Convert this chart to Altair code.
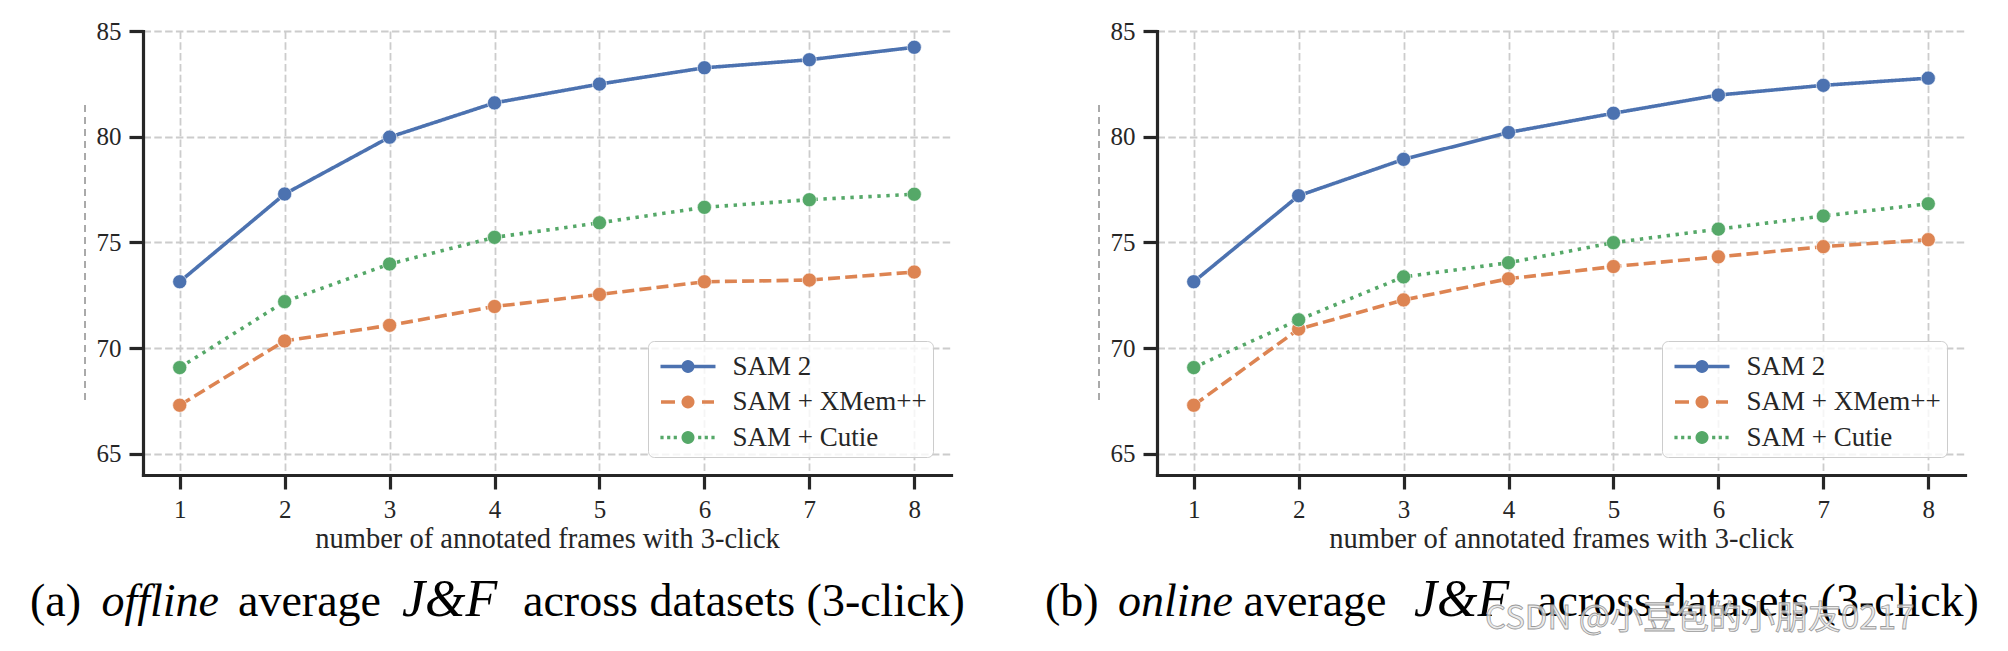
import math
import altair as alt
import pandas as pd

# ---------------- data ----------------
frames = [1, 2, 3, 4, 5, 6, 7, 8]
series_names = ["SAM 2", "SAM + XMem++", "SAM + Cutie"]

offline_sam2 = [73.14, 77.29, 79.98, 81.60, 82.49, 83.26, 83.64, 84.23]
offline_xmem = [67.30, 70.34, 71.08, 71.97, 72.54, 73.14, 73.22, 73.60]
offline_cutie = [69.08, 72.20, 73.98, 75.24, 75.93, 76.66, 77.02, 77.28]

online_sam2 = [73.14, 77.21, 78.93, 80.20, 81.11, 81.97, 82.43, 82.77]
online_xmem = [67.30, 70.90, 72.28, 73.28, 73.86, 74.32, 74.80, 75.13]
online_cutie = [69.08, 71.34, 73.37, 74.04, 74.99, 75.63, 76.25, 76.83]

y_tick_values = [65, 70, 75, 80, 85]
series_colors = ["#4C72B0", "#DD8452", "#55A868"]
series_dashes = [[1, 0], [12, 5.2], [3.4, 5.6]]
x_title = "number of annotated frames with 3-click"

caption_a = ["(a)", "offline", "average", "J&F", "across datasets (3-click)"]
caption_b = ["(b)", "online", "average", "J&F", "across datasets (3-click)"]
caption_italic = [False, True, False, True, False]
caption_sizes = [46, 46, 46, 52, 46]
watermark = "CSDN @小豆包的小朋友0217"

FONT = "Liberation Serif"
INK = "#262626"


def make_df(value_lists):
    rows = []
    for name, vals in zip(series_names, value_lists):
        for f, v in zip(frames, vals):
            rows.append({"frame": f, "score": v, "series": name})
    return pd.DataFrame(rows)


# ------------- legend symbols: line style + marker in one path -------------
U = 17.5  # pixels per symbol unit (sqrt(size)/2)


def ring(r_px, n=28):
    r = r_px / U
    pts = [(r * math.cos(2 * math.pi * k / n), r * math.sin(2 * math.pi * k / n)) for k in range(n)]
    return "M" + " L".join(f"{x:.4f},{y:.4f}" for x, y in pts) + " Z"


def seg(a_px, b_px):
    return f"M{a_px / U:.4f},0 L{b_px / U:.4f},0"


disc = ring(1.7) + " " + ring(4.8)
path_solid = seg(-27.5, 27.5) + " " + disc
path_dash = seg(-27, -13) + " " + seg(14, 26) + " " + disc
path_dot = " ".join(seg(c - 1.6, c + 1.6) for c in [-26, -19.3, -12.7, 11.7, 18.3, 25]) + " " + disc
legend_paths = [path_solid, path_dash, path_dot]

# reversed domains for the drawn marks keep their (hidden) legends apart from the visible one
rev_names = series_names[::-1]
rev_colors = series_colors[::-1]
rev_dashes = series_dashes[::-1]


def panel(df, words, xs, with_watermark=False):
    base = alt.Chart(df)
    x = alt.X("frame:Q",
              scale=alt.Scale(domain=[0.65, 8.35], nice=False, zero=False),
              axis=alt.Axis(values=frames, title=x_title, format="d"))
    y = alt.Y("score:Q",
              scale=alt.Scale(domain=[64, 85], nice=False, zero=False),
              axis=alt.Axis(values=y_tick_values, title=None, format="d"))

    lines = base.mark_line(strokeWidth=3.6).encode(
        x=x, y=y,
        stroke=alt.Stroke("series:N", scale=alt.Scale(domain=rev_names, range=rev_colors),
                          legend=None),
        strokeDash=alt.StrokeDash("series:N",
                                  scale=alt.Scale(domain=rev_names, range=rev_dashes),
                                  legend=None),
    )
    points = base.mark_circle(size=200, opacity=1, stroke="white", strokeWidth=0.6).encode(
        x=x, y=y,
        fill=alt.Fill("series:N", scale=alt.Scale(domain=rev_names, range=rev_colors),
                      legend=None),
    )
    leg = dict(
        title=None, orient="none", legendX=505, legendY=310,
        padding=6, rowPadding=2.5, symbolOffset=14.5, labelOffset=25,
        labelFont=FONT, labelFontSize=27, labelColor=INK, labelLimit=400,
        fillColor="rgba(255,255,255,0.8)", strokeColor="#cccccc", cornerRadius=6,
        symbolSize=1225, symbolStrokeWidth=3.4, symbolOpacity=1,
    )
    legend_layer = base.transform_filter("datum.frame < 0").mark_point(
        filled=False, opacity=1, size=1225, strokeWidth=3.4
    ).encode(
        x=x, y=y,
        color=alt.Color("series:N", scale=alt.Scale(domain=series_names, range=series_colors),
                        legend=alt.Legend(**leg)),
        shape=alt.Shape("series:N",
                        scale=alt.Scale(domain=series_names, range=legend_paths),
                        legend=alt.Legend(**leg)),
    )
    # faint dashed remnant of a clipped y-axis label seen in the reference
    remnant = alt.Chart(pd.DataFrame({"k": [0]})).mark_rule(
        color="#555555", strokeWidth=1, strokeDash=[7, 5]
    ).encode(x=alt.value(-58), y=alt.value(74), y2=alt.value(372))

    texts = []
    for w, it, fs, px in zip(words, caption_italic, caption_sizes, xs):
        texts.append(
            alt.Chart(pd.DataFrame({"caption": [w]})).mark_text(
                align="left", baseline="alphabetic", font=FONT, fontSize=fs,
                fontStyle="italic" if it else "normal", color="black"
            ).encode(text="caption:N", x=alt.value(px), y=alt.value(585))
        )
    if with_watermark:
        texts.append(
            alt.Chart(pd.DataFrame({"mark": [watermark]})).mark_text(
                align="left", baseline="alphabetic", font="Noto Sans CJK SC", fontSize=33,
                fill="#e6e6e6", fillOpacity=0.8, stroke="#9a9a9a", strokeWidth=0.8
            ).encode(text="mark:N", x=alt.value(328), y=alt.value(598))
        )
    return alt.layer(remnant, lines, points, legend_layer, *texts).properties(width=808, height=444)


left = panel(make_df([offline_sam2, offline_xmem, offline_cutie]), caption_a,
             [-113, -41.5, 95, 259, 380])
right = panel(make_df([online_sam2, online_xmem, online_cutie]), caption_b,
              [-112, -39, 86.5, 257, 380], with_watermark=True)

chart = alt.hconcat(left, right, spacing=206, bounds="flush").resolve_scale(
    color="independent", shape="independent", strokeDash="independent",
    stroke="independent", fill="independent",
).properties(
    padding={"left": 22, "top": 11, "right": 0, "bottom": 3},
    background="white",
).configure_view(stroke=None).configure_axis(
    domainColor=INK, domainWidth=3.2, domainCap="square",
    tickColor=INK, tickWidth=3.2, tickSize=14,
    labelFont=FONT, labelFontSize=25, labelColor=INK, labelPadding=8,
    gridColor="#cccccc", gridDash=[7.5, 3.3], gridWidth=1.8,
    titleFont=FONT, titleFontSize=28.5, titleFontWeight="normal", titleColor=INK, titlePadding=2,
).configure_legend(
    labelFont=FONT, labelFontSize=27, labelColor=INK,
)

chart.save("out.html", embed_options={"renderer": "svg", "actions": False})
